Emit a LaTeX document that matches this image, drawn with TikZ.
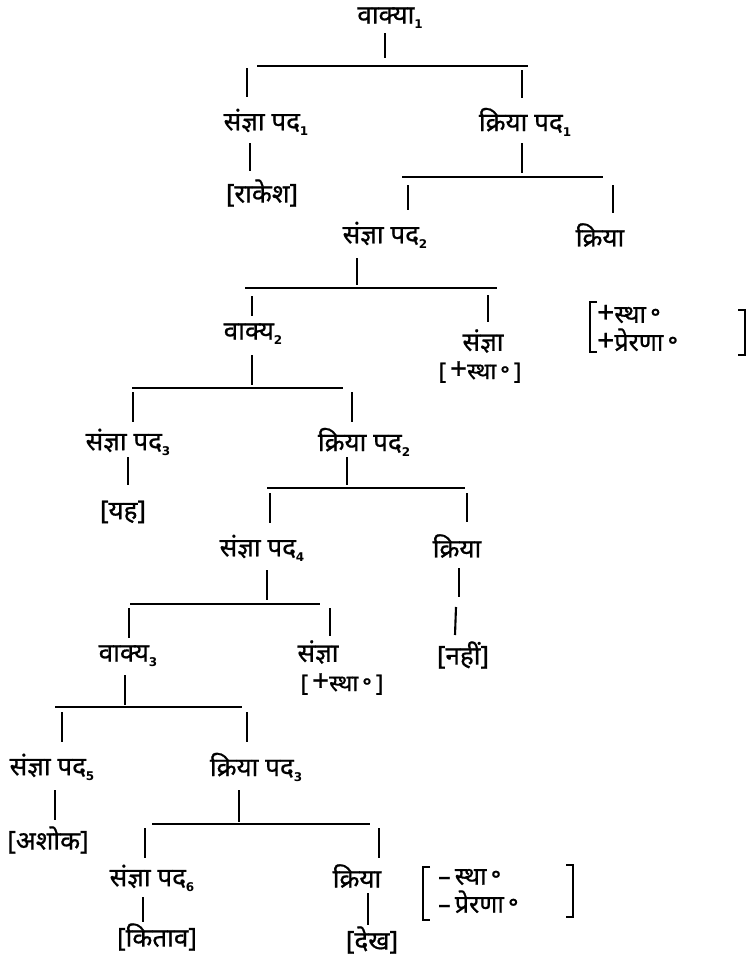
\documentclass[tikz,border=0pt]{standalone}
\usepackage{fontspec}
\newfontfamily\deva[Script=Devanagari,FakeBold=0.7]{Noto Sans}
\newfontfamily\digits{DejaVu Sans}
% bold lowered index after a label
\newcommand\idx[1]{\raisebox{-5pt}{\digits\fontsize{12}{12}\selectfont\bfseries #1}}
% large thin sign in front of a feature
\newcommand\sgn[1]{{\fontsize{30}{30}\selectfont #1}}
% a straight tree stroke between two named end points
\newcommand\treeline[5]{%
  \coordinate (#1-a) at (#2,#3);
  \coordinate (#1-b) at (#4,#5);
  \draw[link] (#1-a) -- (#1-b);}
\begin{document}
\begin{tikzpicture}[x=1pt,y=-1pt,
  lab/.style={inner sep=0pt,font=\deva\fontsize{26}{30}\selectfont},
  featbox/.style={inner sep=0pt,font=\deva\fontsize{23}{26}\selectfont},
  feat/.style={inner sep=0pt,anchor=west,align=left,
    font=\deva\fontsize{25}{28}\selectfont},
  link/.style={line width=2.1pt},
  brk/.style={line width=2.4pt}]
\useasboundingbox (0,0) rectangle (754,964);

% ---- labels ----
\node[lab] (v1)     at (390,18)  {वाक्या\idx{1}};
\node[lab] (np1)    at (266,122) {संज्ञा पद\idx{1}};
\node[lab] (vp1)    at (525,122) {क्रिया पद\idx{1}};
\node[lab] (rakesh) at (262,193) {[राकेश]};
\node[lab] (np2)    at (385,235) {संज्ञा पद\idx{2}};
\node[lab] (kr1)    at (600,235) {क्रिया};
\node[lab] (s2)     at (253,334) {वाक्य\idx{2}};
\node[lab] (sn1)    at (483,341) {संज्ञा};
\node[featbox] (sf1) at (480,372) {[\,\sgn{+}स्था\,॰\,]};
\node[lab] (np3)    at (128,442) {संज्ञा पद\idx{3}};
\node[lab] (vp2)    at (364,442) {क्रिया पद\idx{2}};
\node[lab] (yah)    at (123,512) {[यह]};
\node[lab] (np4)    at (262,548) {संज्ञा पद\idx{4}};
\node[lab] (kr2)    at (457,546) {क्रिया};
\node[lab] (nahin)  at (463,655) {[नहीं]};
\node[lab] (s3)     at (128,656) {वाक्य\idx{3}};
\node[lab] (sn2)    at (318,652) {संज्ञा};
\node[featbox] (sf2) at (342,684) {[\,\sgn{+}स्था\,॰\,]};
\node[lab] (np5)    at (52,767)  {संज्ञा पद\idx{5}};
\node[lab] (vp3)    at (256,767) {क्रिया पद\idx{3}};
\node[lab] (ashok)  at (48,840)  {[अशोक]};
\node[lab] (np6)    at (152,878) {संज्ञा पद\idx{6}};
\node[lab] (kr3)    at (357,876) {क्रिया};
\node[lab] (kitab)  at (157,937) {[किताव]};
\node[lab] (dekh)   at (372,940) {[देख]};

% ---- branches ----
\treeline{v1d}{385}{33}{385}{58}
\treeline{h1}{257}{66}{528}{66}
\treeline{np1u}{247}{68}{247}{97}
\treeline{vp1u}{522}{70}{522}{98}
\treeline{np1d}{250}{143}{250}{171}
\treeline{vp1d}{522}{143}{522}{173}
\treeline{h2}{402}{177}{603}{177}
\treeline{np2u}{408}{185}{408}{210}
\treeline{kr1u}{613}{185}{613}{213}
\treeline{np2d}{357}{258}{357}{285}
\treeline{h3}{245}{288}{497}{288}
\treeline{s2u}{252}{296}{252}{316}
\treeline{sn1u}{488}{295}{488}{322}
\treeline{s2d}{252}{355}{252}{385}
\treeline{h4}{132}{388}{343}{388}
\treeline{np3u}{133}{392}{133}{422}
\treeline{vp2u}{352}{392}{352}{422}
\treeline{np3d}{128}{457}{128}{485}
\treeline{vp2d}{347}{457}{347}{485}
\treeline{h5}{267}{488}{465}{488}
\treeline{np4u}{270}{493}{270}{523}
\treeline{kr2u}{467}{493}{467}{522}
\treeline{np4d}{267}{570}{267}{600}
\treeline{h6}{130}{604}{320}{604}
\treeline{kr2d}{459}{568}{459}{597}
\treeline{kr2e}{456}{607}{455}{635}
\treeline{s3u}{129}{608}{129}{638}
\treeline{sn2u}{330}{608}{330}{636}
\treeline{s3d}{125}{675}{125}{705}
\treeline{h7}{55}{707}{242}{707}
\treeline{np5u}{62}{712}{62}{742}
\treeline{vp3u}{247}{712}{247}{742}
\treeline{np5d}{55}{790}{55}{820}
\treeline{vp3d}{239}{790}{239}{822}
\treeline{h8}{152}{824}{370}{824}
\treeline{np6u}{145}{828}{145}{858}
\treeline{kr3u}{379}{828}{379}{858}
\treeline{np6d}{143}{897}{143}{922}
\treeline{kr3d}{368}{893}{368}{925}

% ---- feature matrices ----
\node[feat] (f1) at (597,328) {\sgn{+}स्था\,॰\\\sgn{+}प्रेरणा\,॰};
\draw[brk] (597,302) -- (590,302) -- (590,352) -- (597,352);
\draw[brk] (738,310) -- (745,310) -- (745,355) -- (738,355);

\node[feat] (f2) at (438,891) {–\,स्था\,॰\\–\,प्रेरणा\,॰};
\draw[brk] (430,867) -- (423,867) -- (423,920) -- (430,920);
\draw[brk] (566,865) -- (573,865) -- (573,917) -- (566,917);
\end{tikzpicture}
\end{document}
